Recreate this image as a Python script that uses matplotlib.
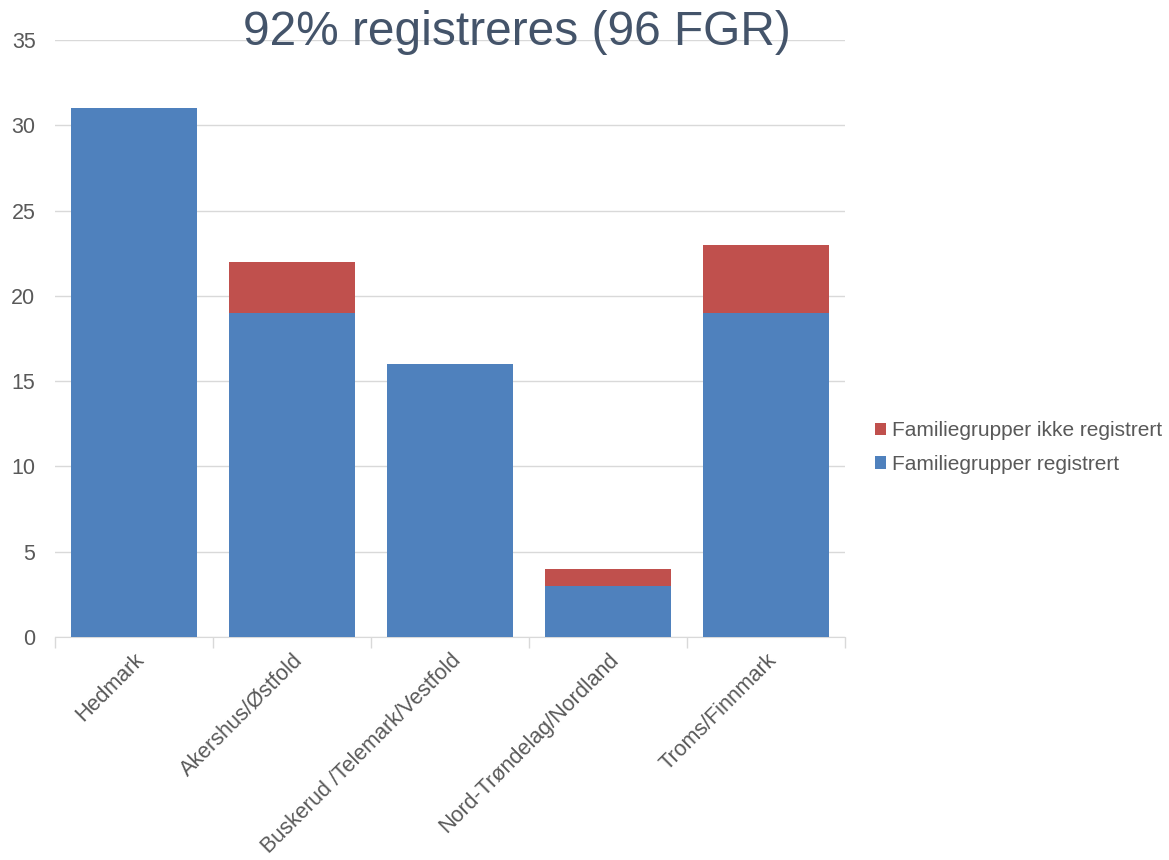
import numpy as np
import matplotlib
matplotlib.use('Agg')
from matplotlib import pyplot as plt

plt.rcParams['font.family'] = ['Liberation Sans', 'DejaVu Sans']

# Family groups per region
regions = ['Hedmark', 'Akershus/Østfold', 'Buskerud /Telemark/Vestfold',
           'Nord-Trøndelag/Nordland', 'Troms/Finnmark']
registered = [31, 19, 16, 3, 19]
not_registered = [0, 3, 0, 1, 4]
yticks = [0, 5, 10, 15, 20, 25, 30, 35]

blue = '#4F81BD'
red = '#C0504D'
grey_text = '#595959'
grid_col = '#D9D9D9'

fig = plt.figure(figsize=(11.69, 8.60), dpi=100)
ax = fig.add_axes([0.047, 0.2593, 0.676, 0.6942])

x = np.arange(len(regions))
b1 = ax.bar(x, registered, width=0.8, color=blue, zorder=3,
            label='Familiegrupper registrert')
b2 = ax.bar(x, not_registered, width=0.8, bottom=registered, color=red,
            zorder=3, label='Familiegrupper ikke registrert')

ax.set_xlim(-0.5, len(regions) - 0.5)
ax.set_ylim(0, 35)
ax.set_yticks(yticks)
ax.yaxis.grid(True, color=grid_col, linewidth=1, zorder=0)
ax.tick_params(axis='y', length=0, labelsize=15.5, labelcolor=grey_text, pad=14)

# category ticks sit between the bars
ax.set_xticks(np.arange(-0.5, len(regions), 1.0))
ax.set_xticklabels([])
ax.set_xticks(x, minor=True)
ax.set_xticklabels(regions, minor=True, rotation=45, ha='right',
                   rotation_mode='anchor', fontsize=15.5, color=grey_text)
ax.tick_params(axis='x', which='major', length=8, color=grid_col, width=1)
ax.tick_params(axis='x', which='minor', length=0, pad=9)

for side in ['top', 'right', 'left']:
    ax.spines[side].set_visible(False)
ax.spines['bottom'].set_color(grid_col)

fig.text(0.442, 0.962, '92% registreres (96 FGR)', fontsize=34.5,
         color='#44546A', ha='center', va='center')

leg = fig.legend(handles=[b2, b1], loc='center left',
                 bbox_to_anchor=(0.7485, 0.4797), frameon=False, fontsize=15,
                 borderaxespad=0, borderpad=0,
                 handlelength=0.55, handleheight=0.55, handletextpad=0.25,
                 labelspacing=0.7)
for t in leg.get_texts():
    t.set_color(grey_text)

fig.savefig('out.png', dpi=100)
